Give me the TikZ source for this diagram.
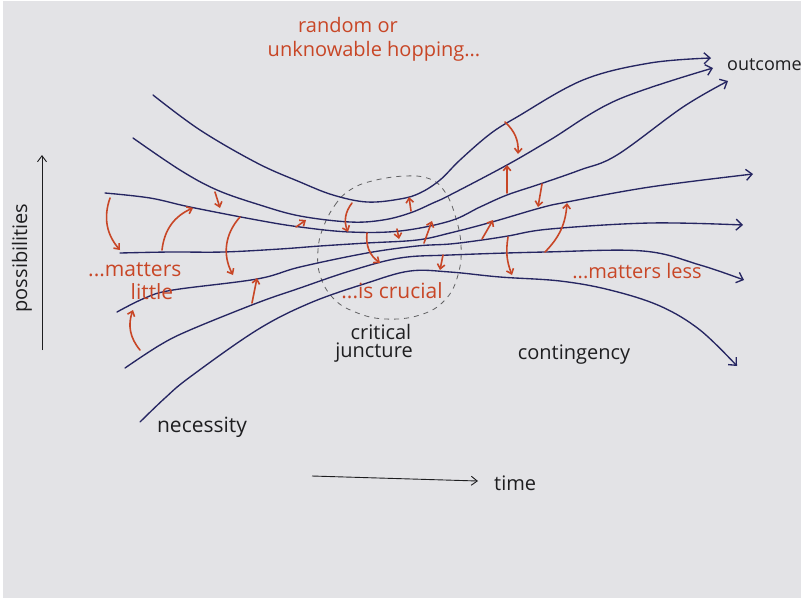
\documentclass[tikz,border=0pt]{standalone}
\usepackage{fontspec}
\setmainfont{Open Sans}
\usetikzlibrary{arrows.meta}
\definecolor{paper}{RGB}{227,227,230}
\definecolor{navy}{RGB}{38,38,98}
\definecolor{hopred}{RGB}{200,70,38}
\definecolor{ink}{RGB}{30,30,32}
\tikzset{
  flow/.style={navy, line width=1.35pt, line cap=round, -{Straight Barb[length=6pt,width=11pt]}},
  hop/.style={hopred, line width=1.6pt, line cap=round, -{Straight Barb[length=4.5pt,width=7.5pt]}},
  axisline/.style={ink, line width=0.9pt, -{Straight Barb[length=6pt,width=9pt]}},
  redtext/.style={text=hopred, font=\fontsize{20}{22}\selectfont, inner sep=0pt},
  blacktext/.style={text=ink, font=\fontsize{20}{22}\selectfont, inner sep=0pt},
  juncture/.style={ink!70, line width=0.8pt, dash pattern=on 5pt off 5pt}
}
\begin{document}
\begin{tikzpicture}[x=1pt,y=-1pt]
\useasboundingbox (0,0) rectangle (802,603);
\fill[white] (0,0) rectangle (802,603);
\fill[paper] (3,1) rectangle (801,598);

% critical juncture (dashed blob)
\draw[juncture] plot[smooth cycle, tension=0.7] coordinates {
 (323,228) (335,205) (350,190) (372,181) (405,176) (430,179) (445,192)
 (455,215) (461,245) (458,275) (445,300) (420,315) (385,319) (355,312)
 (333,298) (320,275) (318,250)};

% curve end points
\coordinate (c1s) at (153,95);  \coordinate (c1e) at (711,58);
\coordinate (c2s) at (133,138); \coordinate (c2e) at (713,68);
\coordinate (c3s) at (105,193); \coordinate (c3e) at (728,81);
\coordinate (c4s) at (120,253); \coordinate (c4e) at (753,174);
\coordinate (c5s) at (117,312); \coordinate (c5e) at (743,225);
\coordinate (c6s) at (125,368); \coordinate (c6e) at (744,280);
\coordinate (c7s) at (140,422); \coordinate (c7e) at (737,366);

\draw[flow] plot[smooth, tension=0.6] coordinates {(c1s) (200,130) (257,163) (300,182) (333,195) (367,202) (400,199) (420,193) (440,180) (460,160) (490,134) (517,117) (583,80) (650,63) (c1e)};
\draw[flow] plot[smooth, tension=0.6] coordinates {(c2s) (180,170) (217,190) (260,205) (300,216) (350,222) (383,220) (410,213) (433,203) (450,195) (507,165) (550,140) (617,100) (c2e)};
\draw[flow] plot[smooth, tension=0.6] coordinates {(c3s) (150,198) (190,207) (257,220) (300,227) (350,232) (400,231) (450,221) (480,207) (507,195) (540,184) (580,170) (617,155) (683,107) (c3e)};
\draw[flow] plot[smooth, tension=0.6] coordinates {(c4s) (170,252) (223,252) (280,249) (320,246) (367,243) (417,240) (450,233) (492,222) (540,208) (567,202) (650,187) (c4e)};
\draw[flow] plot[smooth, tension=0.6] coordinates {(c5s) (145,298) (173,290) (257,279) (300,267) (367,253) (417,246) (450,244) (482,240) (508,236) (550,229) (650,223) (c5e)};
\draw[flow] plot[smooth, tension=0.6] coordinates {(c6s) (160,345) (190,330) (257,303) (300,288) (350,271) (400,258) (450,255) (545,252) (643,251) (700,265) (c6e)};
\draw[flow] plot[smooth, tension=0.6] coordinates {(c7s) (165,398) (190,377) (257,330) (310,303) (367,283) (410,271) (450,272) (500,277) (560,281) (610,290) (660,306) (700,330) (c7e)};

% red hops
\coordinate (r1a) at (110,198);  \coordinate (r1b) at (120,250);
\coordinate (r2a) at (162,250);  \coordinate (r2b) at (193,208);
\coordinate (r3a) at (215,192);  \coordinate (r3b) at (220,208);
\coordinate (r4a) at (240,217);  \coordinate (r4b) at (233,275);
\coordinate (r5a) at (296,227);  \coordinate (r5b) at (306,220);
\coordinate (r6a) at (252,303);  \coordinate (r6b) at (257,278);
\coordinate (r7a) at (140,350);  \coordinate (r7b) at (133,310);
\coordinate (r8a) at (352,203);  \coordinate (r8b) at (348,232);
\coordinate (r9a) at (367,233);  \coordinate (r9b) at (380,263);
\coordinate (r10a) at (397,229); \coordinate (r10b) at (399,239);
\coordinate (r11a) at (411,211); \coordinate (r11b) at (409,197);
\coordinate (r12a) at (424,243); \coordinate (r12b) at (432,221);
\coordinate (r13a) at (443,255); \coordinate (r13b) at (440,270);
\coordinate (r14a) at (482,239); \coordinate (r14b) at (493,220);
\coordinate (r15a) at (507,193); \coordinate (r15b) at (507,165);
\coordinate (r16a) at (508,237); \coordinate (r16b) at (512,275);
\coordinate (r17a) at (505,122); \coordinate (r17b) at (518,154);
\coordinate (r18a) at (542,184); \coordinate (r18b) at (538,207);
\coordinate (r19a) at (545,252); \coordinate (r19b) at (567,203);

\draw[hop] (r1a) to[bend right=30] (r1b);
\draw[hop] (r2a) to[bend left=30] (r2b);
\draw[hop] (r3a) -- (r3b);
\draw[hop] (r4a) to[bend right=35] (r4b);
\draw[hop] (r5a) -- (r5b);
\draw[hop] (r6a) -- (r6b);
\draw[hop] (r7a) to[bend left=30] (r7b);
\draw[hop] (r8a) to[bend right=30] (r8b);
\draw[hop] (r9a) to[bend right=30] (r9b);
\draw[hop] (r10a) -- (r10b);
\draw[hop] (r11a) -- (r11b);
\draw[hop] (r12a) -- (r12b);
\draw[hop] (r13a) -- (r13b);
\draw[hop] (r14a) -- (r14b);
\draw[hop] (r15a) -- (r15b);
\draw[hop] (r16a) to[bend right=15] (r16b);
\draw[hop] (r17a) to[bend left=25] (r17b);
\draw[hop] (r18a) -- (r18b);
\draw[hop] (r19a) to[bend right=20] (r19b);

% axes
\coordinate (ya) at (42,350); \coordinate (yb) at (42,155);
\coordinate (ta) at (312,476); \coordinate (tb) at (478,481);
\draw[axisline] (ya) -- (yb);
\draw[axisline] (ta) -- (tb);

% texts
\node[redtext] (random) at (348,25) {random or};
\node[redtext] (hopping) at (374,51) {unknowable hopping...};
\node[blacktext, anchor=west, font=\fontsize{18}{20}\selectfont] (outcome) at (727,65) {outcome};
\node[blacktext, rotate=90] (poss) at (22,258) {possibilities};
\node[redtext, anchor=west, font=\fontsize{21}{23}\selectfont] (mattersl) at (88,270) {...matters};
\node[redtext, font=\fontsize{21}{23}\selectfont] (little) at (152,292) {little};
\node[redtext, font=\fontsize{21}{23}\selectfont] (crucial) at (392,291) {...is crucial};
\node[blacktext] (critical) at (381,332) {critical};
\node[blacktext] (junct) at (374,353) {juncture};
\node[redtext] (less) at (637,271) {...matters less};
\node[blacktext] (conting) at (574,355) {contingency};
\node[blacktext, font=\fontsize{21}{23}\selectfont] (necess) at (202,427) {necessity};
\node[blacktext, anchor=west] (time) at (494,483) {time};
\end{tikzpicture}
\end{document}
